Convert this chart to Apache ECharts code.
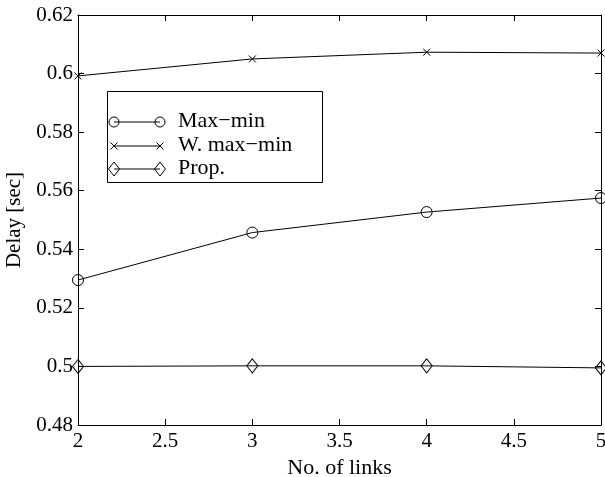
<!DOCTYPE html>
<html>
<head>
<meta charset="utf-8">
<script src="https://cdn.jsdelivr.net/npm/echarts@6/dist/echarts.min.js"></script>
<style>html,body{margin:0;padding:0;background:#fff}#c{width:605px;height:477px}</style>
</head>
<body>
<div id="c"></div>
<script>
var links = [2, 3, 4, 5];
var maxMin = [0.5295, 0.5457, 0.5527, 0.5575];
var wMaxMin = [0.5992, 0.6050, 0.6073, 0.6070];
var prop = [0.5000, 0.5002, 0.5002, 0.4995];
var seriesNames = ['Max\u2212min', 'W. max\u2212min', 'Prop.'];
var xTitle = 'No. of links';
var yTitle = 'Delay [sec]';

var FONT = '"Liberation Serif", "DejaVu Serif", serif';
var FS = 21;
function pairs(v) { return links.map(function (x, i) { return [x, v[i]]; }); }
var crossPath = 'path://M0,0L10,10M10,0L0,10';
var markerStyle = { color: 'transparent', borderColor: '#000', borderWidth: 1 };
var symbols = [
  { symbol: 'circle', size: 11 },
  { symbol: crossPath, size: 7 },
  { symbol: 'diamond', size: [11, 14] }
];
var values = [maxMin, wMaxMin, prop];

var chart = echarts.init(document.getElementById('c'), null, { renderer: 'canvas' });

var axisCommon = {
  axisLine: { show: true, lineStyle: { color: '#000', width: 1 } },
  axisTick: { show: true, inside: true, length: 6, lineStyle: { color: '#000' } },
  splitLine: { show: false }
};

var series = values.map(function (v, i) {
  return {
    name: seriesNames[i],
    type: 'line',
    data: pairs(v),
    symbol: symbols[i].symbol,
    symbolSize: symbols[i].size,
    showAllSymbol: true,
    clip: false,
    lineStyle: { color: '#000', width: 1 },
    itemStyle: markerStyle,
    emphasis: { disabled: true },
    animation: false
  };
});

// legend drawn with graphic elements
var lgX = 107, lgY = 91, lgW = 215, lgH = 91, rowY = [122, 146, 169];
var graphic = [{
  type: 'rect', left: lgX, top: lgY, z: 10,
  shape: { width: lgW, height: lgH },
  style: { fill: '#fff', stroke: '#000', lineWidth: 1 }
}];
rowY.forEach(function (y, i) {
  graphic.push({ type: 'line', z: 11, shape: { x1: 114, y1: y, x2: 160, y2: y }, style: { stroke: '#000', lineWidth: 1 } });
  [114, 160].forEach(function (cx) {
    if (i === 0) {
      graphic.push({ type: 'circle', z: 12, shape: { cx: cx, cy: y, r: 5 }, style: { fill: 'transparent', stroke: '#000', lineWidth: 1 } });
    } else if (i === 1) {
      graphic.push({ type: 'polyline', z: 12, shape: { points: [[cx - 3.5, y - 3.5], [cx + 3.5, y + 3.5]] }, style: { stroke: '#000', lineWidth: 1, fill: null } });
      graphic.push({ type: 'polyline', z: 12, shape: { points: [[cx - 3.5, y + 3.5], [cx + 3.5, y - 3.5]] }, style: { stroke: '#000', lineWidth: 1, fill: null } });
    } else {
      graphic.push({ type: 'polygon', z: 12, shape: { points: [[cx, y - 7], [cx + 5.5, y], [cx, y + 7], [cx - 5.5, y]] }, style: { fill: 'transparent', stroke: '#000', lineWidth: 1 } });
    }
  });
  graphic.push({ type: 'text', z: 12, left: 178, top: y - 12, style: { text: seriesNames[i], font: '22px ' + FONT, fill: '#000' } });
});

chart.setOption({
  animation: false,
  backgroundColor: '#fff',
  grid: { left: 78, right: 4, top: 15, bottom: 52, containLabel: false, outerBoundsMode: 'none' },
  xAxis: [
    Object.assign({}, axisCommon, {
      type: 'value', min: 2, max: 5, interval: 0.5, position: 'bottom',
      name: xTitle, nameLocation: 'middle', nameGap: 24,
      nameTextStyle: { color: '#000', fontFamily: FONT, fontSize: 22 },
      axisLabel: { color: '#000', fontFamily: FONT, fontSize: FS, margin: 6 }
    }),
    Object.assign({}, axisCommon, {
      type: 'value', min: 2, max: 5, interval: 0.5, position: 'top',
      axisLabel: { show: false }
    })
  ],
  yAxis: [
    Object.assign({}, axisCommon, {
      type: 'value', min: 0.48, max: 0.62, interval: 0.02, position: 'left',
      name: yTitle, nameLocation: 'middle', nameGap: 46,
      nameTextStyle: { color: '#000', fontFamily: FONT, fontSize: 21 },
      axisLabel: { color: '#000', fontFamily: FONT, fontSize: FS, margin: 5 }
    }),
    Object.assign({}, axisCommon, {
      type: 'value', min: 0.48, max: 0.62, interval: 0.02, position: 'right',
      axisLabel: { show: false }
    })
  ],
  series: series,
  graphic: graphic
});
</script>
</body>
</html>
